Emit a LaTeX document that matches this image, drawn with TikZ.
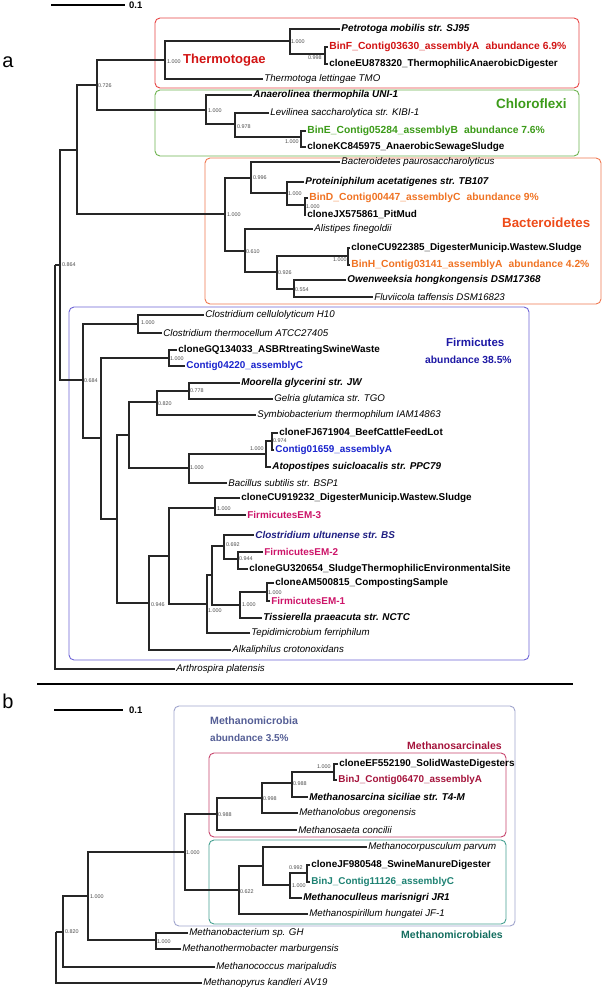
\documentclass[tikz,border=0pt]{standalone}
\usepackage{fontspec}
\setmainfont{Liberation Sans}
\newcommand\labfont{\fontsize{9.9}{11}\selectfont}
\newcommand\itfont{\fontsize{9.7}{11}\selectfont}
\newcommand\binfont{\fontsize{10.3}{11}\selectfont}
\definecolor{cRed}{RGB}{210,20,20}
\definecolor{cRedBox}{RGB}{232,70,70}
\definecolor{cGreen}{RGB}{60,155,25}
\definecolor{cGreenBox}{RGB}{110,180,80}
\definecolor{cOrange}{RGB}{240,115,35}
\definecolor{cBactTxt}{RGB}{238,75,25}
\definecolor{cOrangeBox}{RGB}{240,120,80}
\definecolor{cFirmTxt}{RGB}{30,25,165}
\definecolor{cBlue}{RGB}{25,35,205}
\definecolor{cFirmBox}{RGB}{110,100,215}
\definecolor{cMag}{RGB}{205,20,105}
\definecolor{cNavy}{RGB}{30,30,130}
\definecolor{cMmTxt}{RGB}{85,95,150}
\definecolor{cMmBox}{RGB}{160,165,205}
\definecolor{cMsTxt}{RGB}{165,20,60}
\definecolor{cMsBox}{RGB}{200,70,110}
\definecolor{cMbTxt}{RGB}{20,110,95}
\definecolor{cMbBox}{RGB}{70,160,145}
\definecolor{cTeal}{RGB}{30,130,115}
\tikzset{
  br/.style={draw=black!85, line width=1.1pt},
  grp/.style={line width=0.9pt, rounded corners=5pt},
  tx/.style={anchor=west, inner sep=1.2pt, text=black},
  it/.style={tx, font=\itfont\itshape},
  bi/.style={tx, font=\labfont\bfseries\itshape},
  bd/.style={tx, font=\labfont\bfseries},
  bin/.style={tx, font=\binfont\bfseries},
  sv/.style={anchor=west, inner sep=0pt, text=black!70, font=\fontsize{5.4}{6}\selectfont},
  big/.style={anchor=west, inner sep=0pt, font=\bfseries},
}
\begin{document}
\begin{tikzpicture}[x=1pt,y=-1pt]
\useasboundingbox (0,0) rectangle (602,992);
\fill[white] (0,0) rectangle (602,992);

% ---------- group boxes ----------
\draw[grp, cRedBox] (155,18) rectangle (579,88);
\draw[grp, cGreenBox] (155,90) rectangle (579,156);
\draw[grp, cOrangeBox] (205,158) rectangle (601,304);
\draw[grp, cFirmBox] (69,307) rectangle (529,660);
\draw[grp, cMmBox] (174,706) rectangle (515,926);
\draw[grp, cMsBox] (209,753) rectangle (506,837);
\draw[grp, cMbBox] (209,840) rectangle (506,924);

% ---------- panel letters, scale bars, separator ----------
\node[font=\fontsize{20}{22}\selectfont] (la) at (8,62) {a};
\node[font=\fontsize{20}{22}\selectfont] (lb) at (8,701) {b};
\coordinate (sa1) at (51,5); \coordinate (sa2) at (125,5);
\draw[line width=1.5pt] (sa1) -- (sa2);
\node[anchor=west, inner sep=0pt, font=\fontsize{9.5}{10}\selectfont\bfseries] (sal) at (129,5) {0.1};
\coordinate (sb1) at (54,710); \coordinate (sb2) at (123,710);
\draw[line width=1.5pt] (sb1) -- (sb2);
\node[anchor=west, inner sep=0pt, font=\fontsize{9.5}{10}\selectfont\bfseries] (sbl) at (129,710) {0.1};
\coordinate (sep1) at (37,684); \coordinate (sep2) at (573,684);
\draw[line width=1.8pt] (sep1) -- (sep2);

% ---------- group titles ----------
\node[big, text=cRed, font=\fontsize{13}{14}\selectfont\bfseries] (tTherm) at (183,60) {Thermotogae};
\node[big, text=cGreen, font=\fontsize{13.5}{14}\selectfont\bfseries] (tChl) at (496,104) {Chloroflexi};
\node[big, text=cBactTxt, font=\fontsize{13.3}{14}\selectfont\bfseries] (tBact) at (502,223) {Bacteroidetes};
\node[big, text=cFirmTxt, font=\fontsize{11.5}{12}\selectfont\bfseries] (tFirm) at (446,342) {Firmicutes};
\node[big, text=cFirmTxt, font=\fontsize{10.3}{11}\selectfont\bfseries] (tFirmA) at (425,360) {abundance 38.5\%};
\node[big, text=cMmTxt, font=\fontsize{10.6}{11}\selectfont\bfseries] (tMm) at (210,721) {Methanomicrobia};
\node[big, text=cMmTxt, font=\fontsize{10}{11}\selectfont\bfseries] (tMmA) at (210,738) {abundance 3.5\%};
\node[big, text=cMsTxt, font=\fontsize{10.5}{11}\selectfont\bfseries] (tMs) at (407,746) {Methanosarcinales};
\node[big, text=cMbTxt, font=\fontsize{10.5}{11}\selectfont\bfseries] (tMb) at (401,935) {Methanomicrobiales};

% ================= TREE a =================
\coordinate (R) at (55,265);
\coordinate (n864) at (60,265);
\coordinate (nA67) at (77,150);
\coordinate (n726) at (97,85);
\coordinate (nTherm) at (165,60);
\coordinate (nPet) at (290,41);
\coordinate (nBinF) at (325,54);
\coordinate (nChl) at (206,110);
\coordinate (n978) at (235,124);
\coordinate (nBinE) at (301,137);
\coordinate (nBact) at (225,214);
\coordinate (n996) at (251,178);
\coordinate (nProt) at (287,193);
\coordinate (nBinD) at (305,205);
\coordinate (n610) at (245,251);
\coordinate (n926) at (277,272);
\coordinate (nBinH) at (348,256);
\coordinate (n554) at (294,289);
\coordinate (n684) at (83,380);
\coordinate (nClos) at (138,324);
\coordinate (nX) at (101,438);
\coordinate (nGQ) at (169,358);
\coordinate (nY) at (117,519);
\coordinate (nZ) at (129,435);
\coordinate (n820) at (157,402);
\coordinate (n778) at (189,391);
\coordinate (n1000b) at (189,468);
\coordinate (nAt) at (266,454);
\coordinate (n974) at (272,441);
\coordinate (n946) at (149,603);
\coordinate (nW) at (169,556);
\coordinate (nCU) at (215,508);
\coordinate (nT) at (207,604);
\coordinate (nV) at (212,575);
\coordinate (n692) at (224,546);
\coordinate (n944) at (238,559);
\coordinate (nTis) at (240,605);
\coordinate (nAM) at (267,592);

% internal edges
\draw[br] (n864) -| (R);
\draw[br] (nA67) -| (n864);
\draw[br] (n684) -| (n864);
\draw[br] (n726) -| (nA67);
\draw[br] (nBact) -| (nA67);
\draw[br] (nTherm) -| (n726);
\draw[br] (nChl) -| (n726);
\draw[br] (nPet) -| (nTherm);
\draw[br] (nBinF) -| (nPet);
\draw[br] (n978) -| (nChl);
\draw[br] (nBinE) -| (n978);
\draw[br] (n996) -| (nBact);
\draw[br] (n610) -| (nBact);
\draw[br] (nProt) -| (n996);
\draw[br] (nBinD) -| (nProt);
\draw[br] (n926) -| (n610);
\draw[br] (nBinH) -| (n926);
\draw[br] (n554) -| (n926);
\draw[br] (nClos) -| (n684);
\draw[br] (nX) -| (n684);
\draw[br] (nGQ) -| (nX);
\draw[br] (nY) -| (nX);
\draw[br] (nZ) -| (nY);
\draw[br] (n946) -| (nY);
\draw[br] (n820) -| (nZ);
\draw[br] (n1000b) -| (nZ);
\draw[br] (n778) -| (n820);
\draw[br] (nAt) -| (n1000b);
\draw[br] (n974) -| (nAt);
\draw[br] (nW) -| (n946);
\draw[br] (nCU) -| (nW);
\draw[br] (nT) -| (nW);
\draw[br] (nV) -| (nT);
\draw[br] (n692) -| (nV);
\draw[br] (nTis) -| (nV);
\draw[br] (n944) -| (n692);
\draw[br] (nAM) -| (nTis);

% leaves
\node[bi] (Lpet) at (340,29) {Petrotoga mobilis str. SJ95};
\node[bin, text=cRed] (LbinF) at (328,47) {BinF\_Contig03630\_assemblyA\hspace{0.6em}abundance 6.9\%};
\node[bd] (LcEU) at (328,64) {cloneEU878320\_ThermophilicAnaerobicDigester};
\node[it] (Llet) at (263,79) {Thermotoga lettingae TMO};
\node[bi] (Lana) at (252,95) {Anaerolinea thermophila UNI-1};
\node[it] (Llev) at (269,113) {Levilinea saccharolytica str. KIBI-1};
\node[bin, text=cGreen] (LbinE) at (306,131) {BinE\_Contig05284\_assemblyB\hspace{0.6em}abundance 7.6\%};
\node[bd] (LcKC) at (306,147) {cloneKC845975\_AnaerobicSewageSludge};
\node[it] (Lbpa) at (340,162) {Bacteroidetes paurosaccharolyticus};
\node[bi] (Lpro) at (304,182) {Proteiniphilum acetatigenes str. TB107};
\node[bin, text=cOrange] (LbinD) at (308,198) {BinD\_Contig00447\_assemblyC\hspace{0.6em}abundance 9\%};
\node[bd] (LcJX) at (306,215) {cloneJX575861\_PitMud};
\node[it] (Lali) at (313,229) {Alistipes finegoldii};
\node[bd] (LcCU1) at (350,248) {cloneCU922385\_DigesterMunicip.Wastew.Sludge};
\node[bin, text=cOrange] (LbinH) at (350,265) {BinH\_Contig03141\_assemblyA\hspace{0.6em}abundance 4.2\%};
\node[bi] (Lowe) at (346,280) {Owenweeksia hongkongensis DSM17368};
\node[it] (Lflu) at (373,297) {Fluviicola taffensis DSM16823};
\node[it] (Lcce) at (204,315) {Clostridium cellulolyticum H10};
\node[it] (Lcth) at (162,333) {Clostridium thermocellum ATCC27405};
\node[bd] (LcGQ) at (177,350) {cloneGQ134033\_ASBRtreatingSwineWaste};
\node[bd, text=cBlue] (Lc04220) at (185,366) {Contig04220\_assemblyC};
\node[bi] (Lmoo) at (240,383) {Moorella glycerini str. JW};
\node[it] (Lgel) at (273,399) {Gelria glutamica str. TGO};
\node[it] (Lsym) at (256,415) {Symbiobacterium thermophilum IAM14863};
\node[bd] (LcFJ) at (278,433) {cloneFJ671904\_BeefCattleFeedLot};
\node[bd, text=cBlue] (Lc01659) at (274,450) {Contig01659\_assemblyA};
\node[bi] (Latp) at (271,467) {Atopostipes suicloacalis str. PPC79};
\node[it] (Lbac) at (227,483) {Bacillus subtilis str. BSP1};
\node[bd] (LcCU2) at (240,498) {cloneCU919232\_DigesterMunicip.Wastew.Sludge};
\node[bd, text=cMag] (Lem3) at (246,515) {FirmicutesEM-3};
\node[bi, text=cNavy] (Lcul) at (254,535) {Clostridium ultunense str. BS};
\node[bd, text=cMag] (Lem2) at (263,552) {FirmicutesEM-2};
\node[bd] (LcGU) at (248,569) {cloneGU320654\_SludgeThermophilicEnvironmentalSite};
\node[bd] (LcAM) at (274,583) {cloneAM500815\_CompostingSample};
\node[bd, text=cMag] (Lem1) at (270,601) {FirmicutesEM-1};
\node[bi] (Ltis) at (262,618) {Tissierella praeacuta str. NCTC};
\node[it] (Ltep) at (250,633) {Tepidimicrobium ferriphilum};
\node[it] (Lalk) at (231,650) {Alkaliphilus crotonoxidans};
\node[it] (Lart) at (175,669) {Arthrospira platensis};

\draw[br] (Lpet.west) -| (nPet);
\draw[br] (LbinF.west) -| (nBinF);
\draw[br] (LcEU.west) -| (nBinF);
\draw[br] (Llet.west) -| (nTherm);
\draw[br] (Lana.west) -| (nChl);
\draw[br] (Llev.west) -| (n978);
\draw[br] (LbinE.west) -| (nBinE);
\draw[br] (LcKC.west) -| (nBinE);
\draw[br] (Lbpa.west) -| (n996);
\draw[br] (Lpro.west) -| (nProt);
\draw[br] (LbinD.west) -| (nBinD);
\draw[br] (LcJX.west) -| (nBinD);
\draw[br] (Lali.west) -| (n610);
\draw[br] (LcCU1.west) -| (nBinH);
\draw[br] (LbinH.west) -| (nBinH);
\draw[br] (Lowe.west) -| (n554);
\draw[br] (Lflu.west) -| (n554);
\draw[br] (Lcce.west) -| (nClos);
\draw[br] (Lcth.west) -| (nClos);
\draw[br] (LcGQ.west) -| (nGQ);
\draw[br] (Lc04220.west) -| (nGQ);
\draw[br] (Lmoo.west) -| (n778);
\draw[br] (Lgel.west) -| (n778);
\draw[br] (Lsym.west) -| (n820);
\draw[br] (LcFJ.west) -| (n974);
\draw[br] (Lc01659.west) -| (n974);
\draw[br] (Latp.west) -| (nAt);
\draw[br] (Lbac.west) -| (n1000b);
\draw[br] (LcCU2.west) -| (nCU);
\draw[br] (Lem3.west) -| (nCU);
\draw[br] (Lcul.west) -| (n692);
\draw[br] (Lem2.west) -| (n944);
\draw[br] (LcGU.west) -| (n944);
\draw[br] (LcAM.west) -| (nAM);
\draw[br] (Lem1.west) -| (nAM);
\draw[br] (Ltis.west) -| (nTis);
\draw[br] (Ltep.west) -| (nT);
\draw[br] (Lalk.west) -| (n946);
\draw[br] (Lart.west) -| (R);

% support values a
\node[sv] (s1) at (167,62) {1.000};
\node[sv] (s2) at (291,42) {1.000};
\node[sv] (s3) at (308,58) {0.998};
\node[sv] (s4) at (98,86) {0.726};
\node[sv] (s5) at (208,111) {1.000};
\node[sv] (s6) at (237,127) {0.978};
\node[sv] (s7) at (285,142) {1.000};
\node[sv] (s8) at (253,178) {0.996};
\node[sv] (s9) at (288,194) {1.000};
\node[sv] (s10) at (306,207) {1.000};
\node[sv] (s11) at (227,215) {1.000};
\node[sv] (s12) at (246,252) {0.610};
\node[sv] (s13) at (333,260) {1.000};
\node[sv] (s14) at (278,273) {0.926};
\node[sv] (s15) at (295,290) {0.554};
\node[sv] (s16) at (62,265) {0.864};
\node[sv] (s17) at (141,323) {1.000};
\node[sv] (s18) at (170,359) {1.000};
\node[sv] (s19) at (84,381) {0.684};
\node[sv] (s20) at (190,391) {0.778};
\node[sv] (s21) at (158,404) {0.820};
\node[sv] (s22) at (273,441) {0.974};
\node[sv] (s23) at (250,449) {1.000};
\node[sv] (s24) at (190,468) {1.000};
\node[sv] (s25) at (217,509) {1.000};
\node[sv] (s26) at (226,545) {0.692};
\node[sv] (s27) at (239,559) {0.944};
\node[sv] (s28) at (268,593) {1.000};
\node[sv] (s29) at (242,605) {1.000};
\node[sv] (s30) at (151,605) {0.946};
\node[sv] (s31) at (208,611) {1.000};

% ================= TREE b =================
\coordinate (Rb) at (56,932);
\coordinate (n820b) at (63,932);
\coordinate (n1000c) at (88,896);
\coordinate (nMb) at (156,940);
\coordinate (nMm) at (185,852);
\coordinate (n988a) at (217,814);
\coordinate (n998b) at (262,798);
\coordinate (n988b) at (292,783);
\coordinate (nEF) at (334,772);
\coordinate (n622) at (239,890);
\coordinate (nU) at (263,866);
\coordinate (n1000d) at (290,885);
\coordinate (n992) at (307,873);

\draw[br] (n820b) -| (Rb);
\draw[br] (n1000c) -| (n820b);
\draw[br] (nMm) -| (n1000c);
\draw[br] (nMb) -| (n1000c);
\draw[br] (n988a) -| (nMm);
\draw[br] (n622) -| (nMm);
\draw[br] (n998b) -| (n988a);
\draw[br] (n988b) -| (n998b);
\draw[br] (nEF) -| (n988b);
\draw[br] (nU) -| (n622);
\draw[br] (n1000d) -| (nU);
\draw[br] (n992) -| (n1000d);

\node[bd] (LcEF) at (338,764) {cloneEF552190\_SolidWasteDigesters};
\node[bd, text=cMsTxt] (LbinJ1) at (337,780) {BinJ\_Contig06470\_assemblyA};
\node[bi] (Lmsi) at (308,797) {Methanosarcina siciliae str. T4-M};
\node[it] (Lmol) at (298,813) {Methanolobus oregonensis};
\node[it] (Lmsa) at (297,830) {Methanosaeta concilii};
\node[it] (Lmcp) at (367,847) {Methanocorpusculum parvum};
\node[bd] (LcJF) at (310,865) {cloneJF980548\_SwineManureDigester};
\node[bd, text=cTeal] (LbinJ2) at (310,882) {BinJ\_Contig11126\_assemblyC};
\node[bi] (Lmcu) at (302,898) {Methanoculleus marisnigri JR1};
\node[it] (Lmsp) at (308,914) {Methanospirillum hungatei JF-1};
\node[it] (Lmba) at (188,933) {Methanobacterium sp. GH};
\node[it] (Lmth) at (181,949) {Methanothermobacter marburgensis};
\node[it] (Lmco) at (215,967) {Methanococcus maripaludis};
\node[it] (Lmpy) at (202,983) {Methanopyrus kandleri AV19};

\draw[br] (LcEF.west) -| (nEF);
\draw[br] (LbinJ1.west) -| (nEF);
\draw[br] (Lmsi.west) -| (n988b);
\draw[br] (Lmol.west) -| (n998b);
\draw[br] (Lmsa.west) -| (n988a);
\draw[br] (Lmcp.west) -| (nU);
\draw[br] (LcJF.west) -| (n992);
\draw[br] (LbinJ2.west) -| (n992);
\draw[br] (Lmcu.west) -| (n1000d);
\draw[br] (Lmsp.west) -| (n622);
\draw[br] (Lmba.west) -| (nMb);
\draw[br] (Lmth.west) -| (nMb);
\draw[br] (Lmco.west) -| (n820b);
\draw[br] (Lmpy.west) -| (Rb);

\node[sv] (t1) at (317,767) {1.000};
\node[sv] (t2) at (293,784) {0.988};
\node[sv] (t3) at (263,799) {0.998};
\node[sv] (t4) at (218,815) {0.988};
\node[sv] (t5) at (186,853) {1.000};
\node[sv] (t6) at (289,868) {0.992};
\node[sv] (t7) at (292,886) {1.000};
\node[sv] (t8) at (240,892) {0.622};
\node[sv] (t9) at (90,897) {1.000};
\node[sv] (t10) at (65,932) {0.820};
\node[sv] (t11) at (157,942) {1.000};
\end{tikzpicture}
\end{document}
